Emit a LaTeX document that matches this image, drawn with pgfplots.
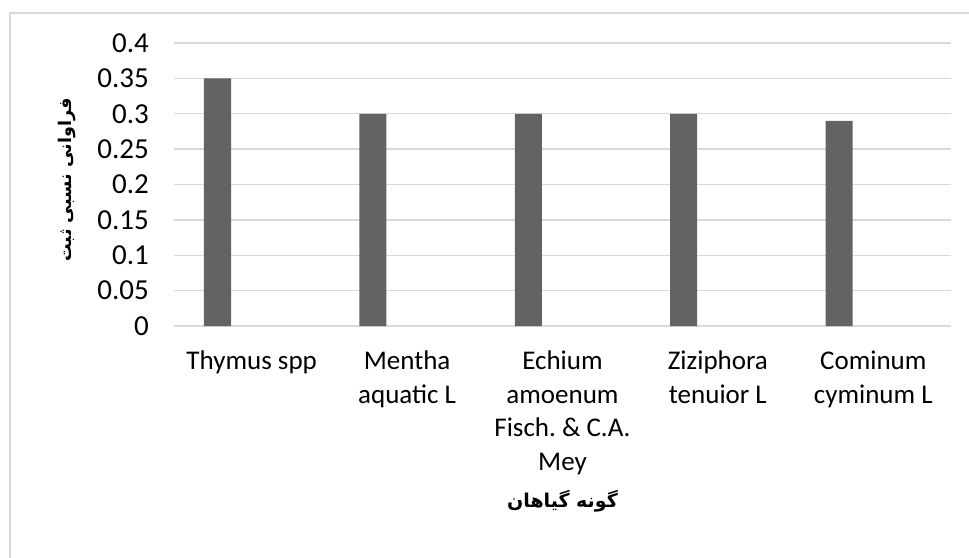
\documentclass[border=0pt]{standalone}
\usepackage{fontspec}
\setmainfont{Carlito}
\newfontfamily\arabicfont[Script=Arabic]{DejaVu Sans}
\usepackage{pgfplots}
\pgfplotsset{compat=1.18}
\TeXXeTstate=1
\frenchspacing
\definecolor{gridc}{HTML}{D9D9D9}
\definecolor{barc}{HTML}{636363}

\begin{document}
\begin{tikzpicture}[x=1pt,y=1pt]
\useasboundingbox (0,0) rectangle (969,557);
\draw[gridc, line width=1.5pt] (10,-5) -- (10,544) -- (975,544);
\begin{axis}[
 at={(174pt,231pt)}, anchor=south west,
 scale only axis, width=777pt, height=283pt,
 xmin=-0.5, xmax=4.5, ymin=0, ymax=0.4,
 axis line style={draw=none},
 major tick length=0pt,
 ytick={0,0.05,0.1,0.15,0.2,0.25,0.3,0.35,0.4},
 yticklabels={0,0.05,0.1,0.15,0.2,0.25,0.3,0.35,0.4},
 xtick={0,1,2,3,4},
 xticklabels={{Thymus spp},{Mentha\\aquatic L},{Echium\\amoenum\\Fisch.\ \& C.A.\\Mey},{Ziziphora\\tenuior L},{Cominum\\cyminum L}},
 ymajorgrids, grid style={gridc, line width=1.3pt},
 font=\fontsize{27}{33.5}\selectfont,
 xticklabel style={font=\fontsize{27}{33.5}\selectfont, anchor=north, align=center, inner sep=0pt, yshift=-25pt},
 yticklabel style={font=\fontsize{29}{33}\selectfont, anchor=east, inner sep=0pt, xshift=-25pt},
 xlabel={\arabicfont\bfseries\beginR گونه گیاهان\endR},
 ylabel={\arabicfont\bfseries\beginR فراوانی نسبی ثبت\endR},
 xlabel style={at={(axis description cs:0.5,-0.6431)}, anchor=base, font=\fontsize{19}{22}\selectfont},
 ylabel style={at={(axis description cs:-0.1371,0.5159)}, anchor=center, font=\fontsize{17.5}{22}\selectfont},
 clip=false,
]
\addplot[ybar, bar width=0.174, bar shift=-0.22, fill=barc, draw=none] table {
x y
0 0.35
1 0.30
2 0.30
3 0.30
4 0.29
};
\end{axis}
\end{tikzpicture}
\end{document}
